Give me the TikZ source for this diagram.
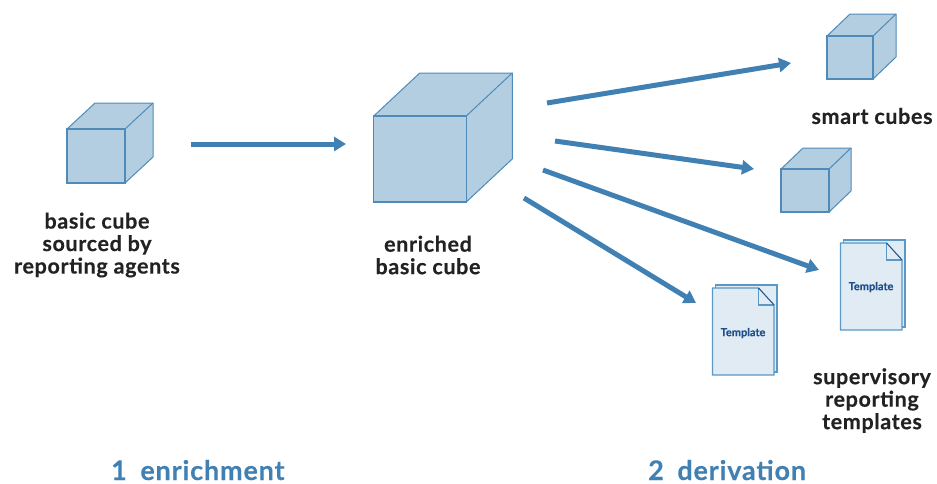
\documentclass[tikz,border=0pt]{standalone}
\usepackage{fontspec}
\setmainfont{Lato}
\usepackage{xcolor}
\usetikzlibrary{arrows.meta, calc}
\definecolor{cubefill}{HTML}{B3CEE1}
\definecolor{cubeline}{HTML}{4F8AB8}
\definecolor{arrowblue}{HTML}{4080B3}
\definecolor{pagefill}{HTML}{E1EBF4}
\definecolor{pageline}{HTML}{5A98C6}
\definecolor{pagetext}{HTML}{1F4F8C}
\definecolor{labeltext}{HTML}{222222}
\newfontfamily\captionfont[LetterSpace=3,FakeBold=0.4]{Lato Bold}
\newfontfamily\stagefont[LetterSpace=3,FakeBold=0.2]{Lato Bold}
\newfontfamily\tmplfont[FakeBold=0.3]{Lato Bold}
\tikzset{%
    % Cubes and pages
    front/.style    = {draw=cubeline, fill=cubefill, line width=1.1pt, inner sep=0pt},
    face/.style     = {draw=cubeline, fill=cubefill, line width=1pt, line join=round},
    page/.style     = {draw=pageline, fill=pagefill, line width=1.2pt, line join=miter},
    fold/.style     = {draw=pagetext, line width=0.9pt},
    % Text styles
    caption/.style  = {align=center, inner sep=0pt, text=labeltext, font=\captionfont\fontsize{21.5}{22.5}\selectfont},
    stage/.style    = {anchor=base west, inner sep=0pt, text=arrowblue, font=\stagefont\fontsize{27}{28}\selectfont},
    tmpl/.style     = {inner sep=0pt, text=pagetext, font=\tmplfont\fontsize{11}{12}\selectfont},
    % Arrows
    flow/.style     = {draw=arrowblue, line width=5pt, -{Triangle[length=12pt,width=14pt]}}
}
% name, centre of the front face, width, height, depth x, depth y
\newcommand{\cubeat}[6]{
    \path[face] (#2) ++(-#3/2,-#4/2) -- ++(#5,-#6) -- ++(#3,0) -- ++(0,#4) -- ++(-#5,#6) -- ++(-#3,0) -- cycle;
    \path[face] (#2) ++(#3/2,-#4/2) -- ++(#5,-#6);
    \node[front, minimum width=#3pt, minimum height=#4pt] (#1) at (#2) {};
}
% name, top left corner
\newcommand{\pageat}[2]{
    \coordinate (#1) at #2;
    \path[page] ($(#1)+(3,-3)$) rectangle ($(#1)+(64.5,84)$);
    \path[page] (#1) -- ++(46,0) -- ++(15.5,17) -- ++(0,70) -- ++(-61.5,0) -- cycle;
    \path[page] ($(#1)+(46,0)$) -- ++(0,17) -- ++(15.5,0);
    \path[fold] ($(#1)+(46,0)$) -- ++(15.5,17);
}

\begin{document}
\begin{tikzpicture}[x=1pt,y=-1pt]
	\useasboundingbox (0,0) rectangle (937,483);

	\cubeat{basic}{96,156}{58}{54}{28}{26}
	\cubeat{enriched}{420,159}{92.5}{86}{46}{43}
	\cubeat{smartA}{850,57.5}{46}{43}{23}{22}
	\cubeat{smartB}{805,190.5}{48}{43}{22}{21}
	\pageat{tmplA}{(712.5,288)}
	\pageat{tmplB}{(840.5,243)}

	\node[tmpl] (tmplAtext) at (743,333) {Template};
	\node[tmpl] (tmplBtext) at (871,287) {Template};

	\coordinate (basicout) at (191,144);
	\coordinate (enrichedin) at (346,144);
	\coordinate (outA) at (547,103);
	\coordinate (smartAin) at (791,63);
	\coordinate (outB) at (555,141);
	\coordinate (smartBin) at (754,169);
	\coordinate (outC) at (543,170);
	\coordinate (tmplBin) at (819,270);
	\coordinate (outD) at (524,198);
	\coordinate (tmplAin) at (696,303);

	\draw[flow] (basicout) -- (enrichedin);
	\draw[flow] (outA) -- (smartAin);
	\draw[flow] (outB) -- (smartBin);
	\draw[flow] (outC) -- (tmplBin);
	\draw[flow] (outD) -- (tmplAin);

	\node[caption] (basiclabel) at (97,245) {basic cube\\sourced by\\reporting agents};
	\node[caption] (enrichedlabel) at (428,255) {enriched\\basic cube};
	\node[caption] (smartlabel) at (872,116) {smart cubes};
	\node[caption] (tmpllabel) at (872,400.5) {supervisory\\reporting\\templates};

	\node[stage] (stageA) at (111,480) {1\hspace{0.5em}enrichment};
	\node[stage] (stageB) at (648,480) {2\hspace{0.5em}derivation};
\end{tikzpicture}
\end{document}
